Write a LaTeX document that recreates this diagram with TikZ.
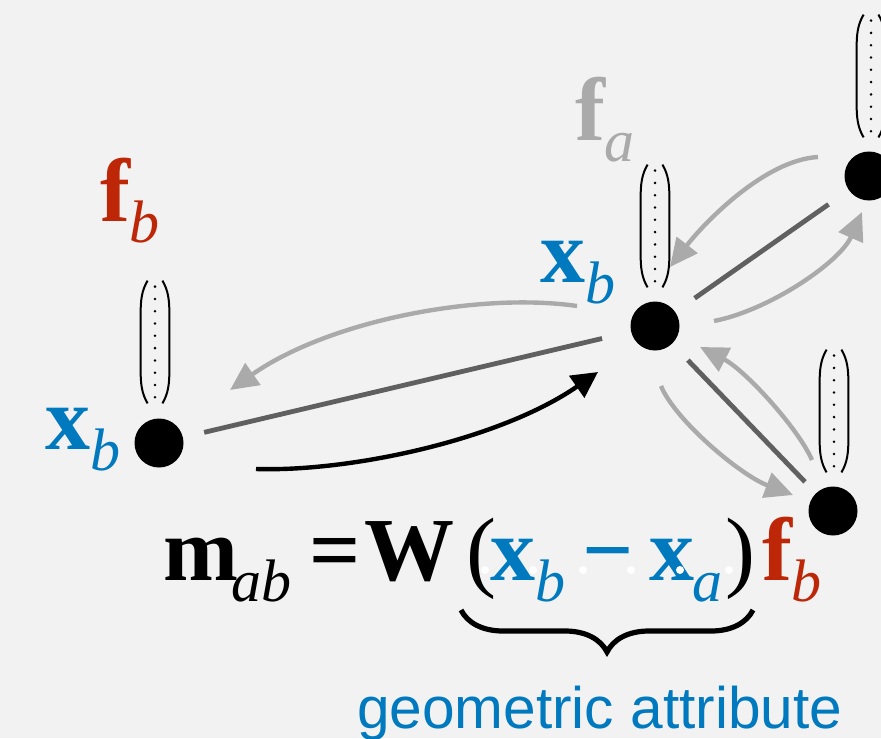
\documentclass[tikz,border=0pt]{standalone}
\usepackage{fontspec}
\setmainfont{Liberation Serif}
\newfontfamily\helv{Liberation Sans}
\usetikzlibrary{arrows.meta,calc,decorations.pathreplacing}
\definecolor{bgc}{HTML}{F2F2F2}
\definecolor{cblue}{HTML}{0079BE}
\definecolor{cred}{HTML}{BD2606}
\definecolor{cgray}{HTML}{AAAAAA}
\definecolor{cdark}{HTML}{606060}
\newcommand\mainf{\fontsize{45}{45}\selectfont\bfseries}
\newcommand\subf{\normalfont\fontsize{30}{30}\selectfont\itshape}
\newcommand\sbs[1]{\raisebox{-10.5pt}{\subf #1}}
\newcommand\fvec[3]{%
  \node[fv] (#1) at (#2,#3+61) {};
  \draw[paren] ($(#1.north west)+(7,0)$) .. controls ($(#1.north west)+(1,10)$) and ($(#1.north west)+(0,20)$) .. ($(#1.north west)+(0,34)$)
     -- ($(#1.south west)+(0,-34)$) .. controls ($(#1.south west)+(0,-20)$) and ($(#1.south west)+(1,-10)$) .. ($(#1.south west)+(7,0)$);
  \draw[paren] ($(#1.north east)+(-7,0)$) .. controls ($(#1.north east)+(-1,10)$) and ($(#1.north east)+(0,20)$) .. ($(#1.north east)+(0,34)$)
     -- ($(#1.south east)+(0,-34)$) .. controls ($(#1.south east)+(0,-20)$) and ($(#1.south east)+(-1,-10)$) .. ($(#1.south east)+(-7,0)$);
  \foreach \k in {0,...,9} \fill ($(#1.north)+(0,6+12.3*\k)$) circle (0.7pt);
}
\begin{document}
\begin{tikzpicture}[x=0.5pt,y=-0.5pt,
  dot/.style={circle,fill=black,minimum size=24.5pt,inner sep=0pt},
  fv/.style={rectangle,minimum width=14pt,minimum height=61pt,inner sep=0pt},
  paren/.style={line width=1pt},
  lab/.style={anchor=base west,inner sep=0pt,outer sep=0pt},
  dedge/.style={draw=cdark,line width=2.4pt},
  garrow/.style={draw=cgray,line width=2.2pt,-{Triangle[length=14pt,width=13pt]}},
  barrow/.style={draw=black,line width=2.2pt,-{Triangle[length=13pt,width=13pt]}},
  wdot/.style={circle,fill=white,minimum size=4pt,inner sep=0pt}]
\fill[bgc] (0,0) rectangle (881,738);
\useasboundingbox (0,0) rectangle (881,738);

% nodes
\node[dot] (A) at (159,443) {};
\node[dot] (B) at (655,326) {};
\node[dot] (C) at (869,176) {};
\node[dot] (D) at (833,511) {};

% feature vectors
\fvec{vA}{155}{281}
\fvec{vB}{655}{165}
\fvec{vC}{871}{15}
\fvec{vD}{834}{350}

% labels
\node[lab,text=cred] (fbL) at (100,221) {\mainf f\sbs{b}};
\node[lab,text=cblue] (xbL) at (45,449) {\mainf x\sbs{b}};
\node[lab,text=cgray] (faM) at (575,140) {\mainf f\sbs{a}};
\node[lab,text=cblue] (xbM) at (540,282) {\mainf x\sbs{b}};

% dark edges
\draw[dedge,shorten <=10.75pt,shorten >=14.75pt] (A) -- (B);
\draw[dedge,shorten <=11.75pt,shorten >=12.25pt] (B) -- (C);
\draw[dedge,shorten <=11.25pt,shorten >=7.75pt] (B) -- (D);

% message arrows
\draw[garrow] ($(B)+(-78,-20)$) .. controls (480,292) and (330,320) .. ($(A)+(71,-53)$);
\draw[barrow] ($(A)+(97,26)$) .. controls (350,472) and (500,440) .. ($(B)+(-57,46)$);
\draw[garrow] ($(C)+(-51,-19)$) .. controls (765,160) and (705,222) .. ($(B)+(15,-59)$);
\draw[garrow] ($(B)+(59,-5)$) .. controls (770,310) and (840,262) .. ($(C)+(-7,36)$);
\draw[garrow] ($(D)+(-21,-51)$) .. controls (798,428) and (745,370) .. ($(B)+(45,21)$);
\draw[garrow] ($(B)+(6,60)$) .. controls (675,420) and (740,475) .. ($(D)+(-40,-16)$);

% formula
\node[lab] (fm) at (163,580) {\mainf m\hspace{-3pt}\sbs{ab}};
\node[lab] (feq) at (309,580) {\mainf =};
\node[lab] (fW) at (364,580) {\mainf W};
\node[lab] (flp) at (466,580) {\fontsize{45}{45}\selectfont (};
\node[lab,text=cblue] (fx1) at (490,580) {\mainf x\sbs{b}};
\node[lab,text=cblue] (fmin) at (582,580) {\mainf −};
\node[lab,text=cblue] (fx2) at (649,580) {\mainf x\hspace{-1pt}\sbs{a}};
\node[lab] (frp) at (725,580) {\fontsize{45}{45}\selectfont )};
\node[lab,text=cred] (ff) at (762,580) {\mainf f\sbs{b}};
\foreach \xx in {485,533,583,631,680,729} \node[wdot] at (\xx,570) {};

% brace
\draw[line width=2.6pt,decorate,decoration={brace,mirror,amplitude=21pt}] (461,610) -- (753,610);
\node[lab,text=cblue] (geo) at (357,728) {\helv\fontsize{29.3}{29.3}\selectfont geometric attribute};
\end{tikzpicture}
\end{document}
